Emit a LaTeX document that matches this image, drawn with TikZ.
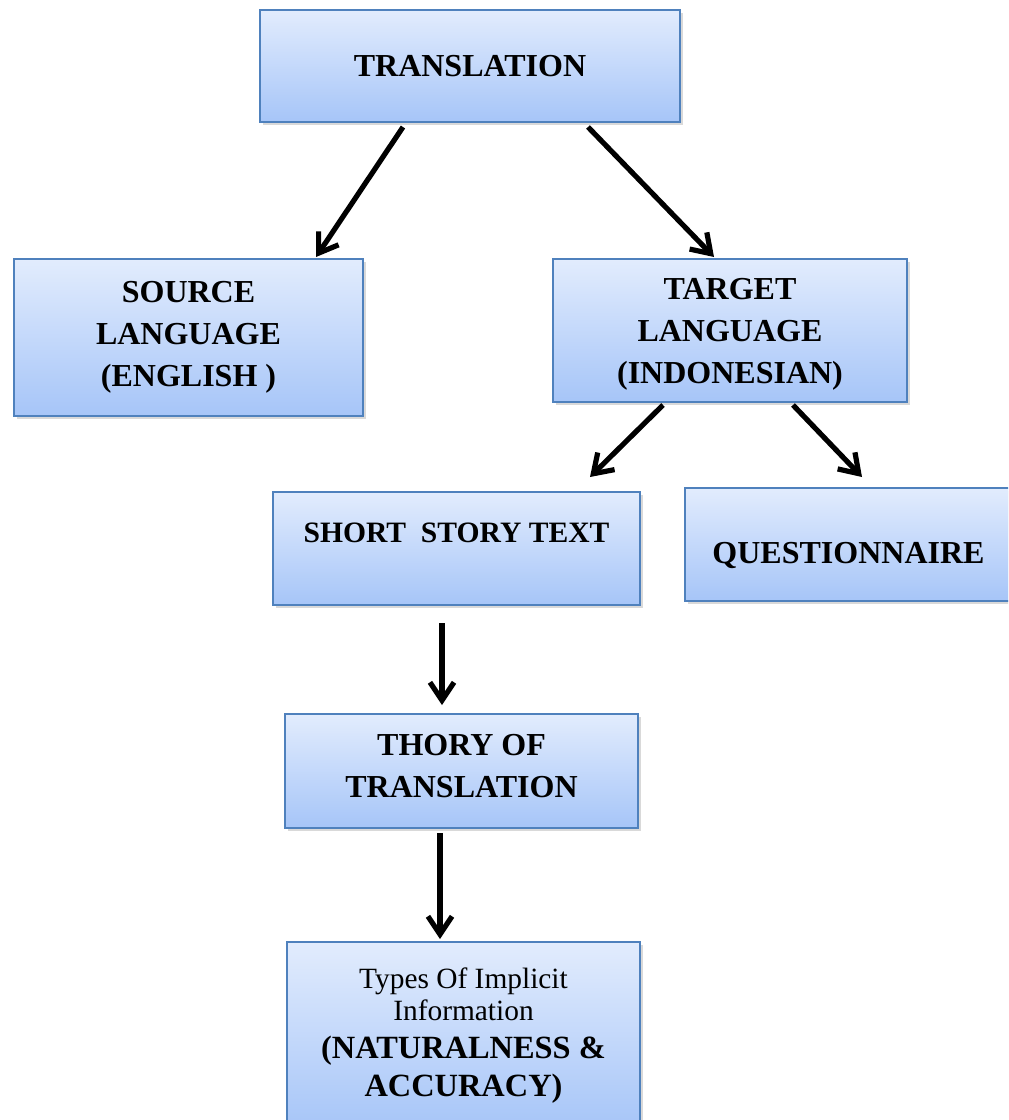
\documentclass[tikz,border=0pt]{standalone}
\usepackage{fontspec}
\setmainfont{Liberation Serif}
\usetikzlibrary{arrows.meta,shadows}
\definecolor{boxline}{HTML}{4F81BD}
\definecolor{boxtop}{HTML}{E2ECFD}
\definecolor{boxbot}{HTML}{A6C5F8}
\begin{document}
\begin{tikzpicture}[x=0.5pt,y=-0.5pt,
    box/.style={draw=boxline,line width=1pt,top color=boxtop,bottom color=boxbot,drop shadow={shadow xshift=1.5pt,shadow yshift=-1.5pt,opacity=0.3},align=center,inner sep=0pt,font=\bfseries\fontsize{16}{21}\selectfont},
    arr/.style={line width=2.6pt,-{Straight Barb[length=9pt,width=12pt]}}]
    \useasboundingbox(0,0)rectangle(1008,1120);
    \clip(0,0)rectangle(1008,1120);
    \node[box,minimum width=210pt,minimum height=56pt](trans)at(470,66){TRANSLATION};
    \node[box,minimum width=174.5pt,minimum height=78.5pt](source)at(188.5,337.5){SOURCE\\LANGUAGE\\(ENGLISH )};
    \node[box,minimum width=177pt,minimum height=71.5pt,text depth=0pt](target)at(730,330.5){TARGET\\LANGUAGE\\(INDONESIAN)};
    \node[box,minimum width=183.5pt,minimum height=56.5pt,font=\bfseries\fontsize{14.8}{18}\selectfont,text height=9.6pt,text depth=15.5pt](story)at(456.5,548.5){SHORT\ \ STORY TEXT};
    \node[box,minimum width=163.5pt,minimum height=56.5pt,font=\bfseries\fontsize{16}{18}\selectfont,text height=19pt,text depth=0pt](quest)at(848.5,544.5){QUESTIONNAIRE};
    \node[box,minimum width=176.5pt,minimum height=57pt,text depth=5pt](theory)at(461.5,771){THORY OF\\TRANSLATION};
    \node[box,minimum width=176.5pt,minimum height=94pt,font=\fontsize{14.7}{16}\selectfont](types)at(463.5,1036){Types Of Implicit\\Information\\[3pt]\bfseries\fontsize{16.2}{16}\selectfont(NATURALNESS \&\\[3pt]\bfseries\fontsize{16.2}{16}\selectfont ACCURACY)};
    \draw[arr]([xshift=-33.5pt,yshift=-2pt]trans.south)--([xshift=63.75pt,yshift=0.5pt]source.north);
    \draw[arr]([xshift=59pt,yshift=-2pt]trans.south)--([xshift=-8pt,yshift=0.5pt]target.north);
    \draw[arr]([xshift=-33.5pt,yshift=-1pt]target.south)--([xshift=66.75pt,yshift=7pt]story.north);
    \draw[arr]([xshift=31.5pt,yshift=-1pt]target.south)--([xshift=6.75pt,yshift=5pt]quest.north);
    \draw[arr]([xshift=-7.25pt,yshift=-8.5pt]story.south)--([xshift=-9.75pt,yshift=4pt]theory.north);
    \draw[arr]([xshift=-10.75pt,yshift=-2pt]theory.south)--([xshift=-11.75pt,yshift=1pt]types.north);
\end{tikzpicture}
\end{document}
